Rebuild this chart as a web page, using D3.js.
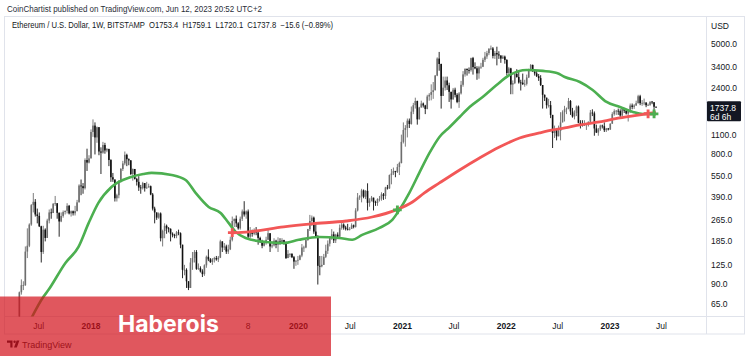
<!DOCTYPE html>
<html><head><meta charset="utf-8">
<script src="https://cdn.jsdelivr.net/npm/d3@7"></script>
<style>
html,body{margin:0;padding:0;background:#fff;}
svg{display:block;font-family:"Liberation Sans",Arial,sans-serif;}
</style>
</head><body>
<svg id="chart" width="750" height="356"></svg>
<script>
// ---------- DATA (weekly candles: [close, high, low]; open = previous close) ----------
const firstOpen = 49;
const start2017 = "2017-04-24";
const eth2017 = [[79,80,48],[89,98,76],[89,95,82],[156,170,88],[172,230,140],[245,250,168],[339,345,240],[358,415,300],[290,375,280],[283,320,250],[238,300,235],[155,240,130],[225,240,150],[196,230,185],[262,270,196],[300,315,250],[297,320,270],[347,350,297],[350,395,335],[298,345,270],[258,300,200],[283,300,255],[302,310,275],[308,310,290],[335,350,295],[295,340,290],[306,310,280],[296,310,285],[307,335,285],[355,370,305],[470,480,355],[465,520,400],[450,490,410],[720,740,440],[690,870,600],[740,780,680]];
const start2018 = "2018-01-01";
const eth2018 = [[1150,1200,740],[1280,1420,1060],[1050,1350,790],[1245,1260,960],[830,1250,780],[815,890,570],[925,975,800],[845,960,800],[865,880,820],[720,870,650],[540,730,500],[520,580,500],[380,520,360],[400,410,360],[500,515,380],[620,630,495],[680,710,600],[785,830,660],[730,800,650],[715,740,660],[570,720,560],[620,625,510],[525,620,520],[500,535,470],[455,550,430],[450,475,410],[490,500,440],[450,490,425],[455,500,445],[465,485,455],[405,470,400],[320,415,310],[300,330,250],[275,300,265],[295,300,270],[195,300,185],[220,225,170],[240,250,195],[230,245,210],[228,235,215],[210,230,185],[205,215,198],[203,210,195],[215,220,195],[212,225,205],[175,215,165],[115,175,100],[115,125,105],[95,118,85],[85,95,82],[130,140,85],[140,155,115]];
const start2019 = "2018-12-31";
const eth2019 = [[155,160,130],[117,160,115],[118,128,115],[112,122,110],[107,116,102],[124,126,104],[143,146,119],[137,162,133],[131,140,129],[137,140,125],[140,143,130],[137,145,134],[141,145,131],[185,190,140],[167,185,155],[170,180,160],[156,175,150],[162,175,150],[190,200,160],[260,280,185],[270,270,235],[250,285,235],[230,255,225],[270,280,225],[305,315,260],[290,362,280],[305,310,270],[200,315,195],[220,235,195],[210,225,200],[222,230,205],[215,235,205],[196,215,175],[185,200,180],[172,190,165],[180,185,170],[190,200,175],[212,225,190],[170,212,155],[173,185,165],[187,195,170],[175,190,165],[185,198,155],[183,195,175],[189,195,180],[183,190,175],[140,185,138],[150,160,140],[150,152,142],[142,152,140],[132,145,117],[134,135,123]];
const start2020 = "2019-12-30";
const eth2020 = [[136,145,125],[146,148,135],[167,177,142],[167,172,155],[189,190,165],[227,228,187],[260,288,220],[275,285,240],[218,280,210],[200,252,200],[123,205,90],[122,145,105],[125,145,120],[143,150,125],[158,175,140],[178,188,150],[197,200,170],[208,227,190],[188,218,180],[207,210,180],[200,215,195],[232,245,198],[245,252,225],[233,250,225],[228,240,222],[226,248,222],[228,235,222],[242,250,228],[236,245,230],[310,322,233],[385,415,305],[392,400,370],[433,445,355],[390,440,380],[430,435,375],[352,488,310],[365,380,330],[384,395,360],[356,377,310],[352,365,335],[375,380,335],[377,395,360],[406,420,365],[395,415,370],[455,460,375],[448,475,440],[560,565,445],[575,620,480],[600,635,560],[590,600,540],[640,675,580],[685,700,560]];
const start2021 = "2020-12-28";
const eth2021 = [[975,1100,680],[1190,1350,950],[1230,1290,900],[1390,1440,1050],[1315,1440,1230],[1615,1760,1300],[1800,1870,1550],[1930,2040,1700],[1420,1940,1300],[1730,1750,1420],[1850,1940,1730],[1790,1880,1730],[1690,1810,1550],[2080,2140,1680],[2140,2200,1940],[2240,2550,1950],[2310,2650,2000],[2950,2980,2300],[3920,4000,2920],[3580,4380,3200],[2100,3600,1700],[2410,2900,2170],[2720,2900,2300],[2510,2900,2320],[2250,2620,1900],[1980,2030,1700],[2330,2400,1980],[2140,2410,2050],[1900,2200,1860],[2190,2240,1720],[2530,2700,2150],[3010,3180,2450],[3300,3330,2900],[3240,3320,2950],[3230,3380,3050],[3950,3980,3150],[3400,4030,3000],[3330,3680,3280],[3060,3450,2750],[3390,3470,2800],[3420,3650,3300],[3840,3970,3400],[4060,4380,3700],[4290,4460,3900],[4620,4660,4150],[4640,4870,4520],[4100,4750,3930],[4300,4450,3900],[4200,4780,3500],[4130,4430,3900],[3920,4130,3650],[4050,4150,3900]];
const start2022 = "2021-12-27";
const eth2022 = [[3830,4120,3600],[3080,3880,2950],[3330,3410,3000],[2540,3360,2160],[2600,2720,2160],[3030,3050,2560],[2880,3280,2850],[2630,3200,2580],[2620,2750,2300],[2560,3050,2520],[2570,2750,2450],[2860,3000,2500],[3300,3300,2830],[3520,3580,3250],[3160,3550,3150],[3060,3180,2950],[2920,3190,2880],[2830,3030,2700],[2520,2970,2480],[2140,2520,1700],[2040,2150,1930],[1800,2020,1700],[1800,2000,1730],[1530,1930,1450],[1130,1530,880],[1200,1280,1040],[1070,1230,1000],[1170,1280,1070],[1350,1600,1000],[1600,1650,1350],[1680,1780,1370],[1700,1730,1550],[1930,2030,1680],[1620,1960,1530],[1490,1720,1460],[1580,1650,1420],[1760,1790,1500],[1340,1790,1330],[1300,1400,1220],[1280,1400,1260],[1300,1400,1270],[1310,1340,1190],[1365,1370,1260],[1590,1660,1340],[1570,1680,1500],[1220,1620,1080],[1140,1300,1130],[1200,1230,1080],[1280,1300,1170],[1265,1300,1220],[1185,1350,1150],[1220,1230,1150],[1200,1230,1180]];
const start2023 = "2023-01-02";
const eth2023 = [[1320,1330,1190],[1550,1600,1320],[1630,1680,1510],[1640,1660,1530],[1630,1700,1530],[1515,1680,1450],[1690,1740,1460],[1640,1720,1580],[1565,1670,1540],[1670,1680,1370],[1790,1850,1580],[1750,1850,1680],[1790,1830,1690],[1860,1940,1780],[2090,2140,1850],[1860,2140,1800],[1870,1960,1780],[1880,2010,1800],[1800,1890,1740],[1810,1850,1780],[1910,1910,1780],[1890,1930,1830],[1753.4,1890,1630],[1737.8,1759.1,1720.1]];

// 50-week SMA (green)
const smaFastDates = ["2017-05-29","2017-07-17","2017-08-04","2017-10-03","2017-11-18","2017-12-24","2018-01-27","2018-03-14","2018-05-23","2018-07-04","2018-08-02","2018-10-12","2018-11-30","2019-01-04","2019-02-19","2019-04-02","2019-04-30","2019-05-25","2019-06-29","2019-09-08","2019-11-10","2020-01-02","2020-03-13","2020-05-23","2020-07-08","2020-08-12","2020-10-12","2020-11-26","2020-12-21","2021-01-25","2021-03-01","2021-04-06","2021-05-11","2021-06-16","2021-07-21","2021-08-25","2021-10-10","2021-11-28","2022-01-13","2022-03-14","2022-05-10","2022-06-28","2022-07-26","2022-09-17","2022-11-01","2022-12-20","2023-02-05","2023-03-23","2023-04-27","2023-06-12"];
const smaFastValues = [48,73,82,129,169,252,352,459,543,570,581,561,516,416,329,297,252,217,196,183,180,190,199,196,190,206,232,265,313,416,581,811,1059,1250,1478,1746,2063,2521,2980,3240,3190,3085,2880,2650,2320,1899,1746,1607,1553,1550];
// 200-week SMA (red)
const smaSlowDates = ["2019-05-13","2019-07-10","2019-11-10","2020-02-17","2020-06-17","2020-09-16","2020-12-10","2021-02-05","2021-03-19","2021-05-11","2021-07-21","2021-09-29","2021-12-08","2022-02-17","2022-04-28","2022-06-13","2022-07-26","2022-09-17","2022-11-25","2023-02-05","2023-04-16","2023-05-29","2023-06-12"];
const smaSlowValues = [213,217,236,248,260,278,313,357,416,491,610,745,895,1040,1132,1189,1230,1294,1360,1453,1528,1580,1590];
// MA cross markers
const crossDates = ["2019-05-13","2020-12-14","2023-05-15","2023-06-05"];
const crossValues = [214,313,1558,1556];
const crossKinds = ["death","golden","death","golden"];

// axes
const priceTicks = [5000,3400,2400,1100,800,550,390,265,185,125,90,65];
const timeTickDates = ["2017-07-01","2018-01-01","2019-07-08","2020-01-01","2020-07-01","2021-01-01","2021-07-01","2022-01-01","2022-07-01","2023-01-01","2023-07-01"];
const timeTickLabels = ["Jul","2018","8","2020","Jul","2021","Jul","2022","Jul","2023","Jul"];

const headerLine1 = "CoinChartist published on TradingView.com, Jun 12, 2023 20:52 UTC+2";
const headerLine2 = "Ethereum / U.S. Dollar, 1W, BITSTAMP  O1753.4  H1759.1  L1720.1  C1737.8  \u221215.6 (\u22120.89%)";
const lastPriceLabel = "1737.8";
const countdownLabel = "6d 6h";

// ---------- CHART ----------
const parse = d3.utcParse("%Y-%m-%d");
const svg = d3.select("#chart");
const plot = {left:5, right:706.5, top:17, bottom:316.5};

const x = d3.scaleUtc().domain([parse("2018-01-01"), parse("2023-01-01")]).range([91, 610]);
const y = d3.scaleLog().domain([65, 5000]).range([304, 44]);

const years = [[start2017,eth2017],[start2018,eth2018],[start2019,eth2019],[start2020,eth2020],[start2021,eth2021],[start2022,eth2022],[start2023,eth2023]];
const candles = [];
let prev = firstOpen;
years.forEach(([s, arr]) => {
  const d0 = parse(s);
  arr.forEach((r, i) => {
    const [c, h, l] = r;
    candles.push({date: d3.utcDay.offset(d0, i*7), o: prev, c, h: Math.max(h, prev, c), l: Math.min(l, prev, c)});
    prev = c;
  });
});

svg.append("rect").attr("width",750).attr("height",356).attr("fill","#fff");

// frame
const gridCol = "#e0e3eb";
svg.append("rect").attr("x",4.5).attr("y",16.5).attr("width",740).attr("height",317.5)
  .attr("fill","none").attr("stroke",gridCol);
svg.append("line").attr("x1",plot.right).attr("x2",plot.right).attr("y1",16.5).attr("y2",334).attr("stroke",gridCol);
svg.append("line").attr("x1",4.5).attr("x2",744.5).attr("y1",plot.bottom).attr("y2",plot.bottom).attr("stroke",gridCol);

// header
svg.append("text").attr("x",7).attr("y",12).attr("font-size",8.5).attr("fill","#2a2e39")
  .attr("textLength",255).attr("lengthAdjust","spacingAndGlyphs").text(headerLine1);
svg.append("text").attr("x",12).attr("y",28).attr("font-size",8.2).attr("fill","#131722")
  .attr("textLength",321).attr("lengthAdjust","spacingAndGlyphs").attr("xml:space","preserve").text(headerLine2);

// clip
svg.append("clipPath").attr("id","clip").append("rect")
  .attr("x",plot.left).attr("y",plot.top).attr("width",plot.right-plot.left).attr("height",plot.bottom-plot.top);
const g = svg.append("g").attr("clip-path","url(#clip)");

const upCol = "#6e6e6e", downCol = "#111111";
g.append("g").selectAll("line").data(candles).join("line")
  .attr("x1",d=>x(d.date)).attr("x2",d=>x(d.date))
  .attr("y1",d=>y(d.h)).attr("y2",d=>y(d.l))
  .attr("stroke",d=>d.c>=d.o?upCol:downCol).attr("stroke-width",0.9);
g.append("g").selectAll("rect").data(candles).join("rect")
  .attr("x",d=>x(d.date)-0.8).attr("width",1.6)
  .attr("y",d=>Math.min(y(d.o),y(d.c)))
  .attr("height",d=>Math.max(0.8,Math.abs(y(d.o)-y(d.c))))
  .attr("fill",d=>d.c>=d.o?upCol:downCol);

const line = d3.line().x(d=>x(d[0])).y(d=>y(d[1])).curve(d3.curveMonotoneX);
const fast = smaFastDates.map((s,i)=>[parse(s),smaFastValues[i]]);
const slow = smaSlowDates.map((s,i)=>[parse(s),smaSlowValues[i]]);
const greenCol = "#4caf50", redCol = "#f25757";
g.append("path").attr("d",line(fast)).attr("fill","none").attr("stroke",greenCol).attr("stroke-width",2.6).attr("stroke-linejoin","round");
g.append("path").attr("d",line(slow)).attr("fill","none").attr("stroke",redCol).attr("stroke-width",2.8).attr("stroke-linejoin","round");

const sym = d3.symbol().type(d3.symbolCross).size(42);
g.append("g").selectAll("path").data(crossDates.map((s,i)=>({d:parse(s),v:crossValues[i],k:crossKinds[i]}))).join("path")
  .attr("d",sym).attr("transform",d=>`translate(${x(d.d)},${y(d.v)})`)
  .attr("fill",d=>d.k==="golden"?greenCol:redCol);

// right axis
svg.append("text").attr("x",711).attr("y",26).attr("dy","0.35em").attr("font-size",8.5).attr("fill","#131722").text("USD");
svg.append("g").selectAll("text").data(priceTicks).join("text")
  .attr("x",711).attr("y",d=>y(d)).attr("dy","0.35em").attr("font-size",8.5).attr("fill","#131722")
  .text(d=>d3.format(".1f")(d));
const lp = y(1737.8);
svg.append("rect").attr("x",707).attr("y",lp-6).attr("width",34).attr("height",20).attr("rx",1).attr("fill","#131722");
svg.append("text").attr("x",710).attr("y",lp+0.5).attr("dy","0.35em").attr("font-size",8.5).attr("fill","#fff").text(lastPriceLabel);
svg.append("text").attr("x",710).attr("y",lp+9.5).attr("dy","0.35em").attr("font-size",8.5).attr("fill","#fff").text(countdownLabel);

// bottom axis
svg.append("g").selectAll("text").data(timeTickDates).join("text")
  .attr("x",d=>x(parse(d))).attr("y",326).attr("dy","0.35em").attr("text-anchor","middle")
  .attr("font-size",8.5).attr("fill","#131722")
  .attr("font-weight",(d,i)=>/^\d{4}$/.test(timeTickLabels[i])?"bold":"normal")
  .text((d,i)=>timeTickLabels[i]);

// TradingView logo (under overlay)
const logo = svg.append("g").attr("fill","#131722");
logo.append("path").attr("d","M7 340.5h5.5v7h-2.2v-4.8H7z");
logo.append("circle").attr("cx",14.6).attr("cy",341.7).attr("r",1.2);
logo.append("path").attr("d","M16.6 340.5h2.8l-2.6 7h-2.8z");
svg.append("text").attr("x",22).attr("y",344.5).attr("dy","0.35em").attr("font-size",9).attr("fill","#131722").text("TradingView");

// overlay watermark
svg.append("rect").attr("x",0).attr("y",296.5).attr("width",331).attr("height",60)
  .attr("fill","#d3101a").attr("fill-opacity",0.7);
svg.append("text").attr("x",118).attr("y",332).attr("font-family","Inter, 'Open Sans', sans-serif")
  .attr("font-weight",700).attr("font-size",23).attr("fill","#fff").text("Haberois");
</script>
</body></html>
